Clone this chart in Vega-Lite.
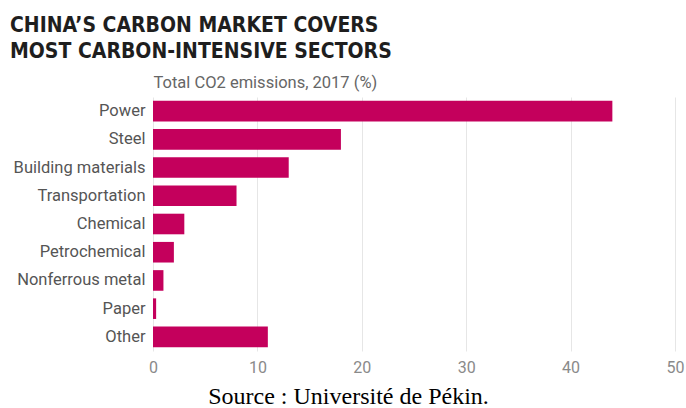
{
  "$schema": "https://vega.github.io/schema/vega-lite/v6.json",
  "width": 522,
  "height": 254,
  "autosize": {"type": "none"},
  "padding": {"left": 153, "top": 97, "right": 11, "bottom": 57},
  "background": "white",
  "title": {
    "text": ["CHINA’S CARBON MARKET COVERS", "MOST CARBON-INTENSIVE SECTORS"],
    "anchor": "start",
    "frame": "group",
    "dx": -143,
    "font": "DejaVu Sans Condensed",
    "fontWeight": "bold",
    "fontSize": 21,
    "lineHeight": 26,
    "color": "#1e1e1e",
    "offset": 12
  },
  "data": {
    "values": [
      {"sector": "Power", "value": 44},
      {"sector": "Steel", "value": 18},
      {"sector": "Building materials", "value": 13},
      {"sector": "Transportation", "value": 8},
      {"sector": "Chemical", "value": 3},
      {"sector": "Petrochemical", "value": 2},
      {"sector": "Nonferrous metal", "value": 1},
      {"sector": "Paper", "value": 0.3},
      {"sector": "Other", "value": 11}
    ]
  },
  "mark": {"type": "bar", "color": "#c4005c"},
  "encoding": {
    "y": {
      "field": "sector",
      "type": "nominal",
      "sort": null,
      "scale": {"paddingInner": 0.27, "paddingOuter": 0.135},
      "axis": {
        "title": "Total CO2 emissions, 2017 (%)",
        "titleAngle": 0,
        "titleX": 0,
        "titleY": -7,
        "titleAlign": "left",
        "titleBaseline": "bottom",
        "titleFont": "Roboto",
        "titleFontWeight": "normal",
        "titleFontSize": 16.5,
        "titleColor": "#666666",
        "labelFont": "Roboto",
        "labelFontSize": 16.5,
        "labelColor": "#555555",
        "labelPadding": 8,
        "ticks": false,
        "domain": false
      }
    },
    "x": {
      "field": "value",
      "type": "quantitative",
      "scale": {"domain": [0, 50]},
      "axis": {
        "values": [0, 10, 20, 30, 40, 50],
        "title": "Source : Université de Pékin.",
        "titleFont": "Liberation Serif",
        "titleFontWeight": "normal",
        "titleFontSize": 24,
        "titleColor": "#000000",
        "titleX": 195,
        "titleY": 52,
        "titleAlign": "center",
        "titleBaseline": "alphabetic",
        "labelFont": "Roboto",
        "labelFontSize": 16,
        "labelColor": "#8a8a8a",
        "labelPadding": 8,
        "labelFlush": false,
        "ticks": false,
        "domain": false,
        "grid": true,
        "gridColor": "#e6e6e6",
        "gridWidth": 1
      }
    }
  },
  "config": {"view": {"stroke": null}}
}
